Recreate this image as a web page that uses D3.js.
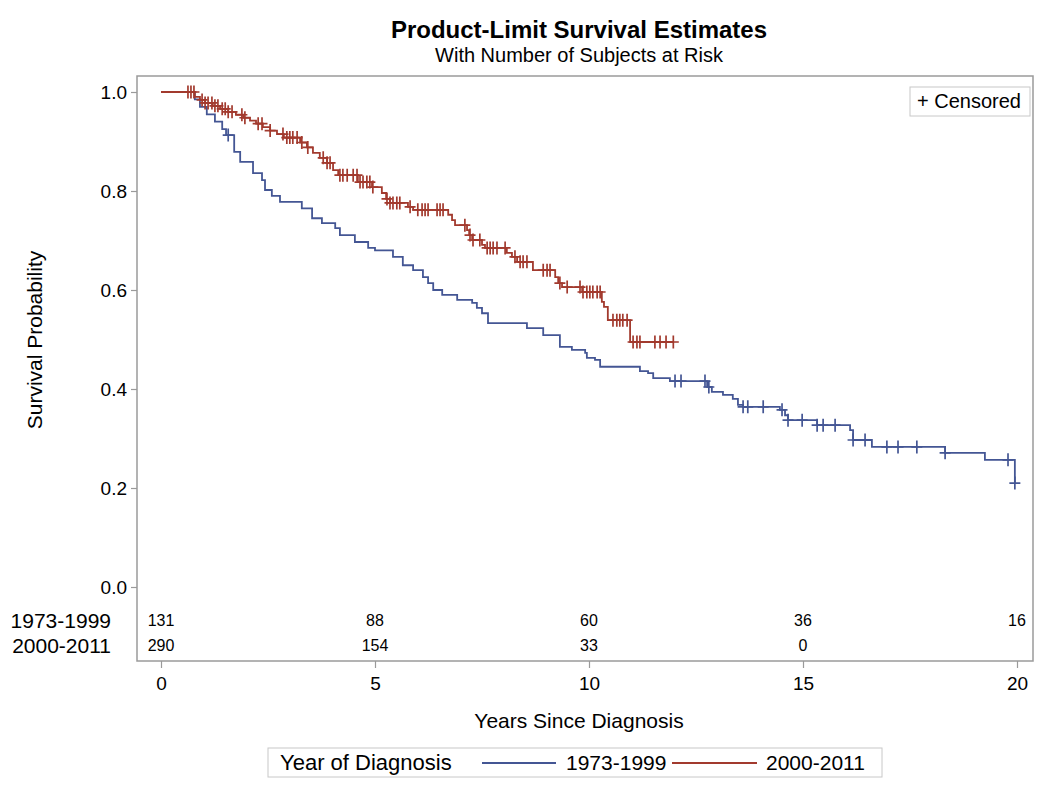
<!DOCTYPE html>
<html>
<head>
<meta charset="utf-8">
<script src="https://cdn.jsdelivr.net/npm/d3@7"></script>
<style>
  html, body { margin: 0; padding: 0; background: #fff; }
  svg text { font-family: "Liberation Sans", Arial, sans-serif; fill: #000; }
</style>
</head>
<body>
<svg id="chart" width="1050" height="794"></svg>
<script>
// ---------------- DATA ----------------
const groups = ["1973-1999", "2000-2011"];
const groupColors = ["#445694", "#A23A2E"];

// Step changes: [time (years), survival after the step]
const steps1973 = [
  [0.79,0.985],[0.91,0.97],[1.07,0.955],[1.26,0.94],[1.43,0.925],[1.52,0.913],[1.71,0.879],[1.85,0.859],
  [2.15,0.836],[2.36,0.822],[2.43,0.802],[2.59,0.79],[2.78,0.778],[3.29,0.765],[3.53,0.745],[3.76,0.735],
  [4.07,0.725],[4.18,0.711],[4.53,0.697],[4.84,0.685],[5.00,0.68],[5.42,0.667],[5.65,0.650],[5.89,0.640],
  [6.12,0.626],[6.24,0.614],[6.36,0.600],[6.57,0.590],[6.92,0.580],[7.27,0.574],[7.38,0.564],[7.50,0.553],
  [7.64,0.533],[8.55,0.523],[8.93,0.509],[9.32,0.485],[9.60,0.479],[9.91,0.473],[9.95,0.463],[10.14,0.459],
  [10.26,0.445],[11.19,0.436],[11.38,0.432],[11.50,0.422],[11.89,0.416],[12.76,0.404],[12.87,0.394],
  [13.13,0.388],[13.36,0.380],[13.48,0.368],[13.60,0.364],[14.46,0.358],[14.58,0.347],[14.65,0.337],
  [15.33,0.327],[16.10,0.317],[16.17,0.297],[16.61,0.283],[18.32,0.271],[19.25,0.257],[19.95,0.210]
];
const censor1973 = [1.57,12.01,12.15,12.71,12.80,13.60,13.71,14.07,14.51,14.65,14.98,15.33,15.47,15.75,
  16.17,16.45,16.96,17.22,17.66,18.32,19.79,19.95];

const steps2000 = [
  [0.79,0.99],[0.91,0.984],[1.03,0.978],[1.21,0.972],[1.38,0.966],[1.57,0.960],[1.75,0.954],[1.92,0.948],
  [2.08,0.942],[2.22,0.936],[2.38,0.929],[2.55,0.922],[2.71,0.915],[2.87,0.908],[3.25,0.898],[3.41,0.888],
  [3.55,0.877],[3.71,0.867],[3.88,0.857],[4.02,0.842],[4.14,0.832],[4.60,0.818],[4.93,0.808],[5.16,0.796],
  [5.26,0.784],[5.35,0.776],[5.77,0.768],[5.89,0.762],[6.71,0.752],[6.80,0.741],[6.87,0.731],[7.15,0.721],
  [7.20,0.711],[7.27,0.701],[7.50,0.691],[7.57,0.685],[8.08,0.675],[8.20,0.667],[8.32,0.657],[8.69,0.640],
  [9.21,0.626],[9.28,0.614],[9.37,0.606],[9.84,0.596],[10.30,0.576],[10.35,0.566],[10.44,0.539],[10.96,0.495]
];
const censor2000 = [0.63,0.70,0.77,0.96,1.03,1.10,1.19,1.26,1.33,1.43,1.50,1.57,1.66,1.89,1.96,2.27,2.36,
  2.55,2.85,2.94,3.01,3.08,3.18,3.29,3.43,3.79,3.88,3.95,4.18,4.25,4.35,4.49,4.58,4.65,4.72,4.81,4.88,4.95,
  5.28,5.35,5.42,5.51,5.58,5.82,6.00,6.10,6.17,6.24,6.45,6.52,6.59,7.10,7.22,7.29,7.45,7.62,7.69,7.76,7.85,
  8.04,8.27,8.39,8.46,8.55,8.93,9.02,9.09,9.32,9.49,9.79,9.86,9.95,10.02,10.09,10.19,10.26,10.56,10.65,
  10.72,10.79,10.89,11.03,11.12,11.19,11.54,11.66,11.80,11.97];

const xTicks = [0, 5, 10, 15, 20];
const yTicks = [0.0, 0.2, 0.4, 0.6, 0.8, 1.0];
const atRisk1973 = [131, 88, 60, 36, 16];
const atRisk2000 = [290, 154, 33, 0];

// ---------------- LAYOUT ----------------
const svg = d3.select("#chart");
const frame = {left: 137, right: 1033, top: 76, bottom: 661};
const x = d3.scaleLinear().domain([0, 20]).range([161, 1017]);
const y = d3.scaleLinear().domain([0, 1]).range([587, 92]);
const font = '"Liberation Sans", Arial, sans-serif';

// Title
svg.append("text").attr("x", 579).attr("y", 38).attr("text-anchor", "middle")
  .style("font-size", "24px").style("font-weight", "bold").text("Product-Limit Survival Estimates");
svg.append("text").attr("x", 579).attr("y", 62).attr("text-anchor", "middle")
  .style("font-size", "20px").text("With Number of Subjects at Risk");

// Frame
svg.append("rect").attr("x", frame.left).attr("y", frame.top)
  .attr("width", frame.right - frame.left).attr("height", frame.bottom - frame.top)
  .attr("fill", "none").attr("stroke", "#9a9a9a").attr("stroke-width", 1.5);

// Y axis
const yAxis = d3.axisLeft(y).tickValues(yTicks).tickFormat(d3.format(".1f")).tickSize(6).tickPadding(4);
const gy = svg.append("g").attr("transform", `translate(${frame.left},0)`).call(yAxis);
gy.select(".domain").remove();
gy.selectAll(".tick line").attr("stroke", "#9a9a9a").attr("stroke-width", 1.2);
gy.selectAll(".tick text").style("font-size", "19px").style("font-family", font).attr("fill", "#000");

// X axis
const xAxis = d3.axisBottom(x).tickValues(xTicks).tickFormat(d3.format("d")).tickSize(7).tickPadding(9);
const gx = svg.append("g").attr("transform", `translate(0,${frame.bottom})`).call(xAxis);
gx.select(".domain").remove();
gx.selectAll(".tick line").attr("stroke", "#9a9a9a").attr("stroke-width", 1.2);
gx.selectAll(".tick text").style("font-size", "19px").style("font-family", font).attr("fill", "#000");

// Axis labels
svg.append("text").attr("x", 579).attr("y", 728).attr("text-anchor", "middle")
  .style("font-size", "21px").text("Years Since Diagnosis");
svg.append("text").attr("transform", "translate(42,340) rotate(-90)").attr("text-anchor", "middle")
  .style("font-size", "21px").text("Survival Probability");

// Curves
function buildPath(steps, censors) {
  const end = Math.max(steps[steps.length - 1][0], d3.max(censors));
  const pts = [[0, 1], ...steps];
  pts.push([end, steps[steps.length - 1][1]]);
  return pts;
}
function survAt(steps, t) {
  let s = 1;
  for (const [ti, si] of steps) { if (ti <= t) s = si; else break; }
  return s;
}
const line = d3.line().x(d => x(d[0])).y(d => y(d[1])).curve(d3.curveStepAfter);

const series = [
  {steps: steps1973, censors: censor1973, color: groupColors[0]},
  {steps: steps2000, censors: censor2000, color: groupColors[1]}
];
series.forEach(s => {
  svg.append("path").datum(buildPath(s.steps, s.censors)).attr("d", line)
    .attr("fill", "none").attr("stroke", s.color).attr("stroke-width", 1.8);
});
series.forEach(s => {
  svg.append("g").selectAll("path").data(s.censors).join("path")
    .attr("d", t => {
      const cx = x(t), cy = y(survAt(s.steps, t));
      return `M${cx - 5.5},${cy}H${cx + 5.5}M${cx},${cy - 6.5}V${cy + 6.5}`;
    })
    .attr("stroke", s.color).attr("stroke-width", 1.7).attr("fill", "none");
});

// At-risk table
const rows = [{label: groups[0], vals: atRisk1973, yy: 620}, {label: groups[1], vals: atRisk2000, yy: 645}];
rows.forEach(r => {
  svg.append("text").attr("x", 111).attr("y", r.yy).attr("text-anchor", "end")
    .attr("dominant-baseline", "central").style("font-size", "21px").text(r.label);
  svg.append("g").selectAll("text").data(r.vals).join("text")
    .attr("x", (d, i) => x(xTicks[i])).attr("y", r.yy).attr("text-anchor", "middle")
    .attr("dominant-baseline", "central").style("font-size", "16px").text(d => d);
});

// Censored inset legend
svg.append("rect").attr("x", 910).attr("y", 87).attr("width", 120).attr("height", 29)
  .attr("fill", "#fff").attr("stroke", "#c8c8c8").attr("stroke-width", 1);
svg.append("text").attr("x", 917).attr("y", 108).style("font-size", "20px").text("+ Censored");

// Bottom legend
svg.append("rect").attr("x", 268).attr("y", 748).attr("width", 614).attr("height", 29)
  .attr("fill", "#fff").attr("stroke", "#c8c8c8").attr("stroke-width", 1);
svg.append("text").attr("x", 280).attr("y", 770).style("font-size", "22px").text("Year of Diagnosis");
const legItems = [{x1: 482, x2: 556, tx: 566}, {x1: 672, x2: 757, tx: 766}];
legItems.forEach((li, i) => {
  svg.append("line").attr("x1", li.x1).attr("x2", li.x2).attr("y1", 763).attr("y2", 763)
    .attr("stroke", groupColors[i]).attr("stroke-width", 1.8);
  svg.append("text").attr("x", li.tx).attr("y", 770).style("font-size", "21px").text(groups[i]);
});
</script>
</body>
</html>
